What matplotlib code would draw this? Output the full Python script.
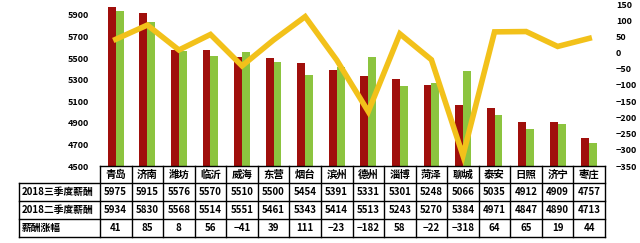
import numpy as np
import matplotlib.pyplot as plt

plt.rcParams['font.family'] = ['Noto Sans CJK SC', 'DejaVu Sans']

cities = ['青岛', '济南', '潍坊', '临沂', '威海', '东营', '烟台', '滨州',
          '德州', '淄博', '菏泽', '聊城', '泰安', '日照', '济宁', '枣庄']
q3 = [5975, 5915, 5576, 5570, 5510, 5500, 5454, 5391,
      5331, 5301, 5248, 5066, 5035, 4912, 4909, 4757]
q2 = [5934, 5830, 5568, 5514, 5551, 5461, 5343, 5414,
      5513, 5243, 5270, 5384, 4971, 4847, 4890, 4713]
change = [41, 85, 8, 56, -41, 39, 111, -23,
          -182, 58, -22, -318, 64, 65, 19, 44]
row_labels = ['2018三季度薪酬', '2018二季度薪酬', '薪酬涨幅']
left_ticks = [4500, 4700, 4900, 5100, 5300, 5500, 5700, 5900]
right_ticks = [-350, -300, -250, -200, -150, -100, -50, 0, 50, 100, 150]

W, H = 640, 243
fig = plt.figure(figsize=(6.4, 2.43), dpi=100)
fig.patch.set_facecolor('white')

# plot area in pixels
x0, x1, ytop, ybot = 100, 605, 4, 166
ax = fig.add_axes([x0 / W, 1 - ybot / H, (x1 - x0) / W, (ybot - ytop) / H])
n = len(cities)
x = np.arange(n)
bw = 0.25
ax.bar(x - bw / 2, np.array(q3) - 4500, bw, bottom=4500, color='#A00F0C')
ax.bar(x + bw / 2, np.array(q2) - 4500, bw, bottom=4500, color='#8CC43F')
ax.set_xlim(-0.5, n - 0.5)
ax.set_ylim(4500, 6000)
ax.set_yticks(left_ticks)
ax.set_yticklabels([str(t) for t in left_ticks], fontsize=6.5, fontweight='bold')
ax.tick_params(axis='y', length=0, pad=8)
ax.set_xticks([])
for s in ax.spines.values():
    s.set_visible(False)

ax2 = ax.twinx()
ax2.plot(x, change, color='#F2C11A', lw=4, solid_joinstyle='miter')
ax2.set_ylim(-350, 150)
ax2.set_yticks(right_ticks)
ax2.set_yticklabels([str(t).replace('-', '\u2212') for t in right_ticks], fontsize=6.5, fontweight='bold')
ax2.tick_params(axis='y', length=0, pad=8)
for s in ax2.spines.values():
    s.set_visible(False)

# table drawn in a pixel-coordinate overlay
tb = fig.add_axes([0, 0, 1, 1])
tb.set_xlim(0, W)
tb.set_ylim(H, 0)
tb.axis('off')
rows_y = [166, 183, 201, 219, 237]
col_w = (x1 - x0) / n
lx = 19
lw = 1.0
# horizontal lines
tb.plot([x0, x1], [rows_y[0], rows_y[0]], color='black', lw=lw)
for yy in rows_y[1:]:
    tb.plot([lx, x1], [yy, yy], color='black', lw=lw)
# vertical lines
tb.plot([lx, lx], [rows_y[1], rows_y[-1]], color='black', lw=lw)
for i in range(n + 1):
    xx = x0 + i * col_w
    tb.plot([xx, xx], [rows_y[0], rows_y[-1]], color='black', lw=lw)

for i, c in enumerate(cities):
    cx = x0 + (i + 0.5) * col_w
    tb.text(cx, (rows_y[0] + rows_y[1]) / 2, c, ha='center', va='center',
            fontsize=7.5, fontweight='bold')
    vals = [q3[i], q2[i], change[i]]
    for r, v in enumerate(vals):
        tb.text(cx, (rows_y[r + 1] + rows_y[r + 2]) / 2, str(v).replace('-', '\u2212'),
                ha='center', va='center', fontsize=7, fontweight='bold')
for r, lab in enumerate(row_labels):
    tb.text(lx + 3, (rows_y[r + 1] + rows_y[r + 2]) / 2, lab, ha='left', va='center',
            fontsize=7, fontweight='bold')

fig.savefig('out.png', dpi=100)
